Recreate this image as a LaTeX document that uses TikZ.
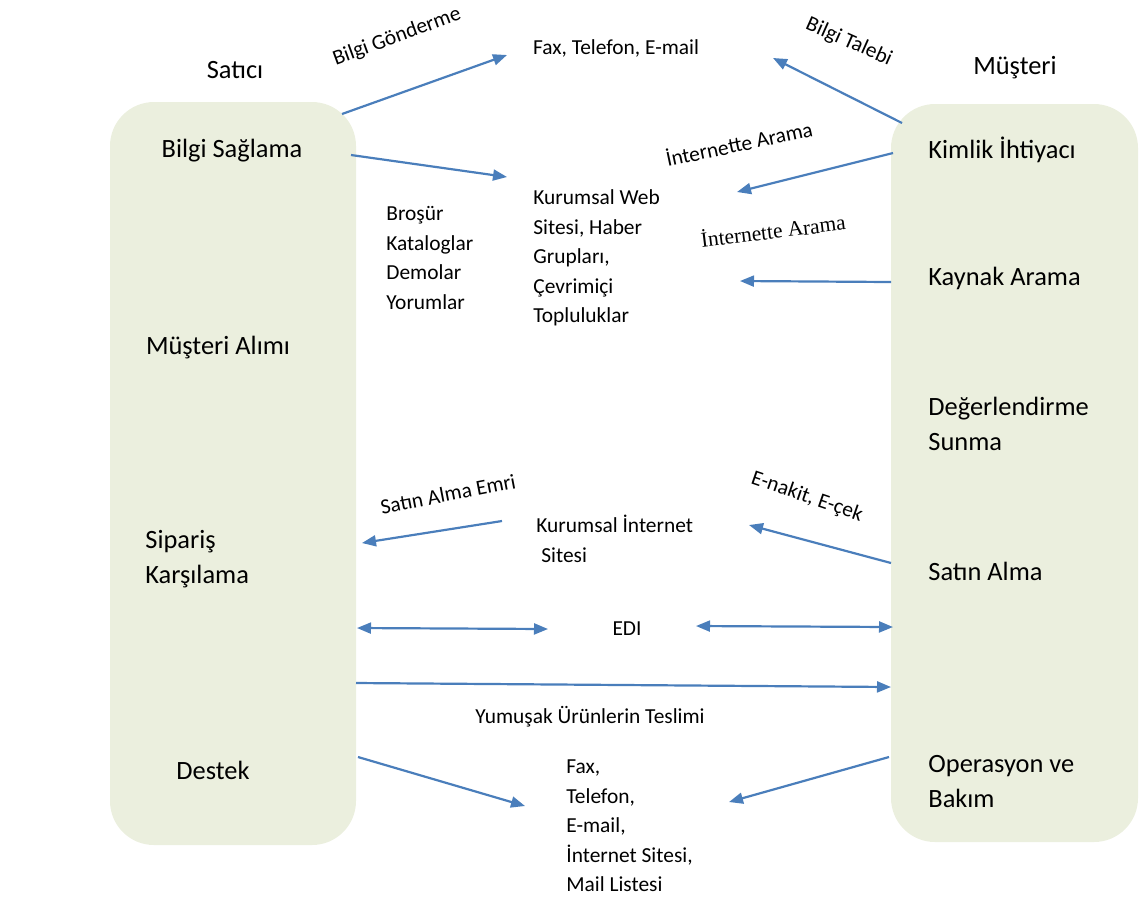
\documentclass[tikz,border=0pt]{standalone}
\usepackage{fontspec}
\setmainfont{Carlito}
\newfontfamily\timesfont{Liberation Serif}
\usepackage{xcolor}
\usetikzlibrary{arrows.meta}
\definecolor{arrowblue}{HTML}{4A7EBB}
\definecolor{panelgreen}{HTML}{EBEFDE}

\begin{document}
\begin{tikzpicture}[x=0.5pt, y=-0.5pt]
\tikzstyle{panel} = [fill=panelgreen, rounded corners=22pt, inner sep=0]
\tikzstyle{bigtxt} = [font=\fontsize{13.2}{17.5}\selectfont, inner sep=0, align=left]
\tikzstyle{smalltxt} = [font=\fontsize{10.7}{14.75}\selectfont, inner sep=0, align=left]
\tikzset{arr/.style={draw=arrowblue, line width=1.1pt, -{Triangle[length=7pt,width=5.5pt]}}}
\tikzset{dblarr/.style={arr, {Triangle[length=7pt,width=5.5pt]}-{Triangle[length=7pt,width=5.5pt]}}}
\useasboundingbox (0,0) rectangle (1140,902);
% panels
\node[panel, minimum width=123pt, minimum height=371.5pt] (satpanel) at (233,473.5) {};
\node[panel, minimum width=123.5pt, minimum height=369pt] (muspanel) at (1014.5,473) {};
% headers
\node[bigtxt] (satici) at (235,70) {Satıcı};
\node[bigtxt] (musteri) at (1015,68) {Müşteri};
% seller side
\node[bigtxt] (bilgi) at (232,151) {Bilgi Sağlama};
\node[bigtxt] (alim) at (218,348) {Müşteri Alımı};
\node[bigtxt, anchor=west] (siparis) at (145,559) {Sipariş\\Karşılama};
\node[bigtxt] (destek) at (213,770) {Destek};
% customer side
\node[bigtxt, anchor=west] (kimlik) at (928,150) {Kimlik İhtiyacı};
\node[bigtxt, anchor=west] (kaynak) at (928,278) {Kaynak Arama};
\node[bigtxt, anchor=west] (deger) at (928,424) {Değerlendirme\\Sunma};
\node[bigtxt, anchor=west] (satin) at (928,571) {Satın Alma};
\node[bigtxt, anchor=west] (operasyon) at (928,782) {Operasyon ve\\Bakım};
% channels
\node[smalltxt] (fax) at (616,48) {Fax, Telefon, E-mail};
\node[smalltxt, anchor=west] (web) at (533,258) {Kurumsal Web\\Sitesi, Haber\\Grupları,\\Çevrimiçi\\Topluluklar};
\node[smalltxt, anchor=west] (brosur) at (386,258) {Broşür\\Kataloglar\\Demolar\\Yorumlar};
\node[smalltxt, anchor=west] (kisite) at (536,539) {Kurumsal İnternet\\\hspace{2.5pt}Sitesi};
\node[smalltxt] (edi) at (627,629) {EDI};
\node[smalltxt] (teslim) at (590,717) {Yumuşak Ürünlerin Teslimi};
\node[smalltxt, anchor=west] (iletisim) at (566,826) {Fax,\\Telefon,\\E-mail,\\İnternet Sitesi,\\Mail Listesi};
% arrow labels
\node[smalltxt, rotate=20] (gonder) at (397,37) {Bilgi Gönderme};
\node[smalltxt, rotate=-24] (talep) at (849,42) {Bilgi Talebi};
\node[smalltxt, rotate=12] (arama) at (739,143) {İnternette Arama};
\node[smalltxt, rotate=7, font=\timesfont\fontsize{10.7}{13}\selectfont] (aramatnr) at (773,230) {İnternette Arama};
\node[smalltxt, rotate=11] (emir) at (448,494) {Satın Alma Emri};
\node[smalltxt, rotate=-19] (enakit) at (807,497) {E-nakit, E-çek};
% arrow ends
\coordinate (gonderA) at (342,114);  \coordinate (gonderB) at (507,55);
\coordinate (talepA) at (902,123);   \coordinate (talepB) at (773,58);
\coordinate (bilgiA) at (351,155);   \coordinate (bilgiB) at (507,177);
\coordinate (kimlikA) at (893,153);  \coordinate (kimlikB) at (737,192);
\coordinate (kaynakA) at (891,282);  \coordinate (kaynakB) at (740,281);
\coordinate (emirA) at (502,521);    \coordinate (emirB) at (362,543);
\coordinate (satinA) at (891,563);   \coordinate (satinB) at (749,525);
\coordinate (teslimA) at (356,683);  \coordinate (teslimB) at (891,687);
\coordinate (destekA) at (358,757);  \coordinate (destekB) at (525,806);
\coordinate (bakimA) at (889,757);   \coordinate (bakimB) at (729,802);
\coordinate (ediA) at (357,628);     \coordinate (ediB) at (548,629);
\coordinate (ediC) at (696,626);     \coordinate (ediD) at (893,627);
\foreach \from/\to in {gonderA/gonderB, talepA/talepB, bilgiA/bilgiB, kimlikA/kimlikB,
  kaynakA/kaynakB, emirA/emirB, satinA/satinB, teslimA/teslimB, destekA/destekB, bakimA/bakimB}
\draw[arr] (\from) -- (\to);
\draw[dblarr] (ediA) -- (ediB);
\draw[dblarr] (ediC) -- (ediD);
\end{tikzpicture}
\end{document}
